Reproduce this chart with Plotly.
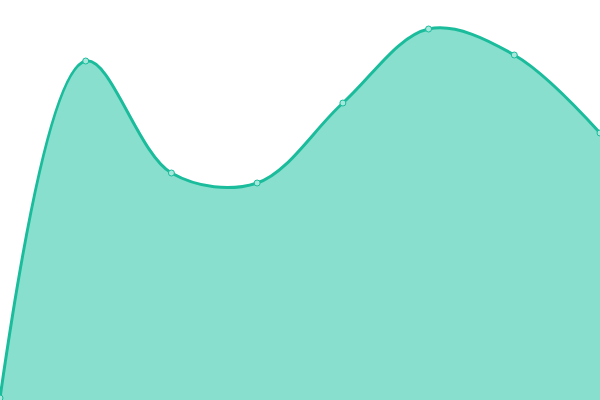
import plotly.graph_objects as go

x_vals = [0, 1, 2, 3, 4, 5, 6, 7]
y_vals = [2, 339, 227, 217, 297, 371, 345, 267]

line_color = '#1abc9c'
fill_color = '#89dfce'

fig = go.Figure()
fig.add_trace(go.Scatter(
    x=x_vals, y=y_vals,
    mode='lines+markers',
    line=dict(color=line_color, width=3, shape='spline', smoothing=1),
    fill='tozeroy', fillcolor=fill_color,
    marker=dict(size=6, color='#a6e8db', line=dict(color=line_color, width=1)),
    hoverinfo='skip',
))

fig.update_layout(
    width=600, height=400,
    margin=dict(l=0, r=0, t=0, b=0),
    paper_bgcolor='white', plot_bgcolor='white',
    showlegend=False,
    xaxis=dict(range=[0, 7], visible=False, fixedrange=True),
    yaxis=dict(range=[0, 400], visible=False, fixedrange=True),
)

# page has a default 8px body margin, drop it so the plot sits at 0,0
fig.write_html("out.html", config={'displayModeBar': False},
               post_script="document.body.style.margin='0';")
